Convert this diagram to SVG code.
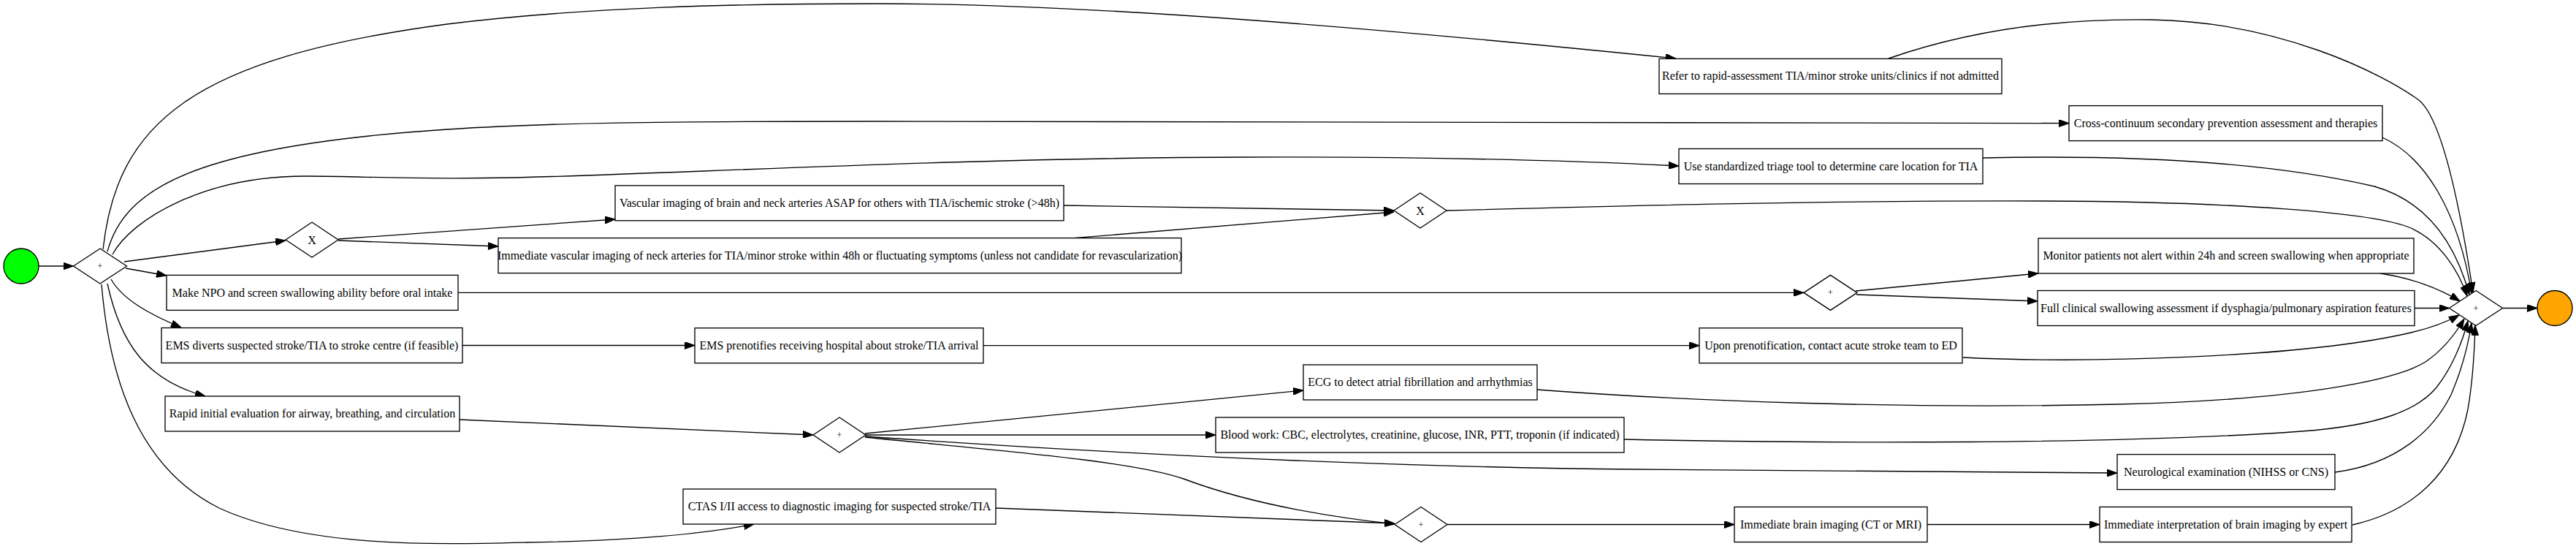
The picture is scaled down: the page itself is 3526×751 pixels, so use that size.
<svg xmlns="http://www.w3.org/2000/svg" width="3526" height="751" viewBox="0 0 3526 751">
<defs>
<style>
.box{fill:#fff;stroke:#000;stroke-width:1.33}
.gw{fill:#fff;stroke:#000;stroke-width:1.33}
.lbl{font-family:"Liberation Serif","Times New Roman",serif;font-size:16px;fill:#000;text-anchor:middle}
.plus{font-family:"Liberation Serif","Times New Roman",serif;font-size:12px;fill:#000;text-anchor:middle}
.xg{font-family:"Liberation Serif","Times New Roman",serif;font-size:16px;fill:#000;text-anchor:middle}
.e{fill:none;stroke:#000;stroke-width:1.33;marker-end:url(#ah)}
</style>
<marker id="ah" viewBox="0 0 14 10" refX="14" refY="5" markerWidth="14" markerHeight="10" markerUnits="userSpaceOnUse" orient="auto">
<path d="M0,0 L14,5 L0,10 z" fill="#000" stroke="#000" stroke-width="1"/>
</marker>
</defs>
<rect width="3526" height="751" fill="#fff"/>
<g id="connectors">
<path class="e" d="M53,364 L100.5,364"/>
<path class="e" d="M141,341 C160,170 260,80 612,33 C800,10 1000,5 1200,5 C1500,5 1900,40 2294,80"/>
<path class="e" d="M147,344 C170,260 260,200 612,177 C750,168 900,166 1200,166 L2832,168.6"/>
<path class="e" d="M154,348 C180,300 280,240 421,241 C500,241 560,246 700,243 C900,239 1300,216 1700,215 C2000,214 2200,222 2298,227"/>
<path class="e" d="M170,358 L391,329"/>
<path class="e" d="M172,367 L228,377"/>
<path class="e" d="M152,382 C168,410 205,430 248,448"/>
<path class="e" d="M147,388 C165,470 200,520 281,542"/>
<path class="e" d="M139,389 C150,520 190,640 300,695 C420,750 600,745 720,742 C850,740 950,733 1032,717"/>
<path class="e" d="M463,327 L842,300"/>
<path class="e" d="M463,329 L682,337"/>
<path class="e" d="M627,400.4 L2469,400.4"/>
<path class="e" d="M633,472.5 L951,472.5"/>
<path class="e" d="M629,574 L1113,595"/>
<path class="e" d="M1456,281 L1908,288"/>
<path class="e" d="M1470,325.6 L1908,290"/>
<path class="e" d="M1346,472.7 L2326,472.7"/>
<path class="e" d="M1184,593 L1784,534"/>
<path class="e" d="M1185,595 L1664,595"/>
<path class="e" d="M1184,597 C1400,612 1800,638 2238,642 C2500,645 2700,647 2898,647"/>
<path class="e" d="M1184,598 C1350,615 1550,630 1620,655 C1700,685 1800,705 1909,717"/>
<path class="e" d="M1363,695 L1909,716"/>
<path class="e" d="M2540,398 L2790,374"/>
<path class="e" d="M2541,403 L2789,412"/>
<path class="e" d="M1981,717.5 L2374,717.5"/>
<path class="e" d="M2638,717.5 L2874,717.5"/>
<path class="e" d="M2585,80 C2700,40 2820,25 2945,27 C3120,30 3260,100 3311,137 C3345,165 3370,300 3385,400"/>
<path class="e" d="M3261,188 C3320,215 3365,290 3383,401"/>
<path class="e" d="M2714,216 C2900,212 3100,220 3250,255 C3320,275 3360,330 3380,403"/>
<path class="e" d="M1980,288 C2200,282 2500,274 2800,275 C3050,276 3250,290 3300,312 C3340,330 3365,370 3377,405"/>
<path class="e" d="M3258,374 C3300,380 3340,395 3367,412"/>
<path class="e" d="M3305,421.5 L3352.5,421.5"/>
<path class="e" d="M2687,489 C2850,497 3150,490 3300,455 C3330,448 3350,440 3366,431"/>
<path class="e" d="M2104,533 C2300,548 2600,560 2900,553 C3150,547 3280,520 3320,495 C3345,478 3362,455 3373,436"/>
<path class="e" d="M2223,601 C2500,607 2900,608 3150,590 C3260,582 3310,560 3335,530 C3355,505 3370,470 3378,439"/>
<path class="e" d="M3196,646 C3280,635 3330,590 3355,540 C3370,505 3378,475 3383,442"/>
<path class="e" d="M3220,718 C3300,700 3360,650 3378,560 C3385,520 3387,480 3388,445"/>
<path class="e" d="M3425.5,421.5 L3473,421.5"/>
</g>
<g id="start"><ellipse cx="29" cy="364" rx="24" ry="24" fill="#00ff00" stroke="#000" stroke-width="1.33"/></g>
<g id="gw_split"><polygon class="gw" points="100.5,364 137,340 173.5,364 137,388"/><text class="plus" x="137" y="368">+</text></g>
<g id="gw_x1"><polygon class="gw" points="391,328 427,304 463,328 427,352"/><text class="xg" x="427" y="333.5">X</text></g>
<g id="npo"><rect class="box" x="228" y="376.4" width="399" height="48"/><text class="lbl" x="427.5" y="405.5">Make NPO and screen swallowing ability before oral intake</text></g>
<g id="ems_divert"><rect class="box" x="221" y="448.5" width="412" height="48"/><text class="lbl" x="427" y="477.5">EMS diverts suspected stroke/TIA to stroke centre (if feasible)</text></g>
<g id="rapid"><rect class="box" x="226" y="542" width="403" height="48"/><text class="lbl" x="427.5" y="571">Rapid initial evaluation for airway, breathing, and circulation</text></g>
<g id="vascular"><rect class="box" x="842" y="253.8" width="614" height="48"/><text class="lbl" x="1149" y="282.8">Vascular imaging of brain and neck arteries ASAP for others with TIA/ischemic stroke (&gt;48h)</text></g>
<g id="imm_vascular"><rect class="box" x="682" y="325.6" width="935" height="48"/><text class="lbl" x="1149.5" y="354.6">Immediate vascular imaging of neck arteries for TIA/minor stroke within 48h or fluctuating symptoms (unless not candidate for revascularization)</text></g>
<g id="ems_prenotify"><rect class="box" x="951" y="448.7" width="395" height="48"/><text class="lbl" x="1148.5" y="477.7">EMS prenotifies receiving hospital about stroke/TIA arrival</text></g>
<g id="gw_p3"><polygon class="gw" points="1113,595 1149,571 1185,595 1149,619"/><text class="plus" x="1149" y="599">+</text></g>
<g id="ctas"><rect class="box" x="935" y="669" width="428" height="48"/><text class="lbl" x="1149" y="698">CTAS I/II access to diagnostic imaging for suspected stroke/TIA</text></g>
<g id="gw_x2"><polygon class="gw" points="1908,288 1944,264 1980,288 1944,312"/><text class="xg" x="1944" y="293.5">X</text></g>
<g id="ecg"><rect class="box" x="1784" y="499" width="320" height="48"/><text class="lbl" x="1944" y="528">ECG to detect atrial fibrillation and arrhythmias</text></g>
<g id="blood"><rect class="box" x="1664" y="571" width="559" height="48"/><text class="lbl" x="1943.5" y="600">Blood work: CBC, electrolytes, creatinine, glucose, INR, PTT, troponin (if indicated)</text></g>
<g id="gw_p4"><polygon class="gw" points="1909,717.5 1945,693.5 1981,717.5 1945,741.5"/><text class="plus" x="1945" y="721.5">+</text></g>
<g id="refer"><rect class="box" x="2271" y="80.4" width="469" height="48"/><text class="lbl" x="2505.5" y="109.4">Refer to rapid-assessment TIA/minor stroke units/clinics if not admitted</text></g>
<g id="triage"><rect class="box" x="2298" y="203.5" width="416" height="48"/><text class="lbl" x="2506" y="232.5">Use standardized triage tool to determine care location for TIA</text></g>
<g id="gw_p2"><polygon class="gw" points="2469,400.4 2505.5,376.4 2542,400.4 2505.5,424.4"/><text class="plus" x="2505.5" y="404.4">+</text></g>
<g id="upon"><rect class="box" x="2326" y="448.7" width="360" height="48"/><text class="lbl" x="2506" y="477.7">Upon prenotification, contact acute stroke team to ED</text></g>
<g id="brain_imaging"><rect class="box" x="2374" y="693.5" width="264" height="48"/><text class="lbl" x="2506" y="722.5">Immediate brain imaging (CT or MRI)</text></g>
<g id="cross"><rect class="box" x="2832" y="144.6" width="429" height="48"/><text class="lbl" x="3046.5" y="173.6">Cross-continuum secondary prevention assessment and therapies</text></g>
<g id="monitor"><rect class="box" x="2790" y="326" width="514" height="48"/><text class="lbl" x="3047" y="355">Monitor patients not alert within 24h and screen swallowing when appropriate</text></g>
<g id="full_swallow"><rect class="box" x="2789" y="397.5" width="516" height="48"/><text class="lbl" x="3047" y="426.5">Full clinical swallowing assessment if dysphagia/pulmonary aspiration features</text></g>
<g id="neuro"><rect class="box" x="2898" y="621.6" width="298" height="48"/><text class="lbl" x="3047" y="650.6">Neurological examination (NIHSS or CNS)</text></g>
<g id="interpret"><rect class="box" x="2874" y="693.5" width="345" height="48"/><text class="lbl" x="3046.5" y="722.5">Immediate interpretation of brain imaging by expert</text></g>
<g id="gw_join"><polygon class="gw" points="3352.5,421.5 3389,397.5 3425.5,421.5 3389,445.5"/><text class="plus" x="3389" y="425.5">+</text></g>
<g id="end"><ellipse cx="3497" cy="421.5" rx="24" ry="24" fill="#ffa500" stroke="#000" stroke-width="1.33"/></g>
</svg>
